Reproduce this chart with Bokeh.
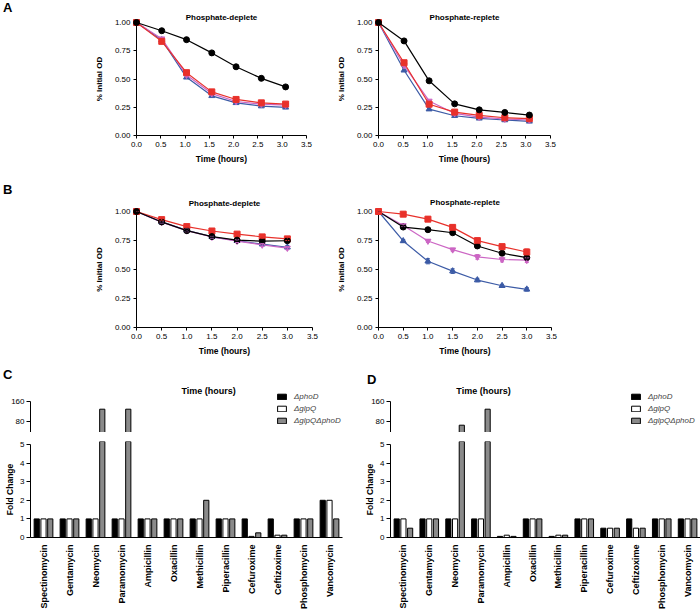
from math import pi
from bokeh.plotting import figure
from bokeh.models import (Range1d, FactorRange, FixedTicker, PrintfTickFormatter, Label,
                          Legend, LegendItem, ColumnDataSource, Whisker, TeeHead, Div)
from bokeh.layouts import column, row
from bokeh.transform import dodge
from bokeh.embed import file_html
from bokeh.resources import INLINE

FONT = "Liberation Sans"
BLACK = "#000000"
RED = "#e8312b"
PINK = "#cc66c4"
BLUE = "#3c5ba6"
GRAY = "#8a8a8a"

# ---------------- data ----------------
X_TICKS = [0.0, 0.5, 1.0, 1.5, 2.0, 2.5, 3.0, 3.5]
Y_TICKS = [0.0, 0.25, 0.5, 0.75, 1.0]

TIME_A = [0.0, 0.52, 1.03, 1.55, 2.05, 2.57, 3.07]
TIME_B = [0.0, 0.5, 1.0, 1.5, 2.0, 2.5, 3.0]

A_DEP_BLACK = [1.00, 0.927, 0.848, 0.731, 0.608, 0.506, 0.430]
A_DEP_RED = [1.00, 0.833, 0.556, 0.386, 0.319, 0.289, 0.278]
A_DEP_PINK = [1.00, 0.857, 0.535, 0.371, 0.301, 0.278, 0.269]
A_DEP_BLUE = [1.00, 0.845, 0.515, 0.351, 0.289, 0.260, 0.249]

A_REP_BLACK = [1.00, 0.837, 0.484, 0.280, 0.227, 0.204, 0.181]
A_REP_RED = [1.00, 0.644, 0.277, 0.207, 0.178, 0.157, 0.149]
A_REP_PINK = [1.00, 0.620, 0.306, 0.195, 0.163, 0.146, 0.137]
A_REP_BLUE = [1.00, 0.577, 0.233, 0.175, 0.152, 0.137, 0.125]

B_DEP_BLACK = [1.00, 0.910, 0.835, 0.784, 0.753, 0.744, 0.748]
B_DEP_RED = [1.00, 0.930, 0.870, 0.832, 0.805, 0.781, 0.764]
B_DEP_PINK = [1.00, 0.908, 0.835, 0.780, 0.745, 0.712, 0.685]
B_DEP_BLUE = [1.00, 0.910, 0.838, 0.782, 0.748, 0.718, 0.692]
B_DEP_ERR = [0.0, 0.008, 0.010, 0.010, 0.012, 0.012, 0.014]

B_REP_BLACK = [1.00, 0.866, 0.843, 0.817, 0.703, 0.640, 0.603]
B_REP_RED = [1.00, 0.977, 0.934, 0.863, 0.749, 0.697, 0.651]
B_REP_PINK = [1.00, 0.880, 0.746, 0.671, 0.609, 0.586, 0.580]
B_REP_BLUE = [1.00, 0.746, 0.571, 0.486, 0.409, 0.360, 0.329]
B_REP_ERR_BLACK = [0.0, 0.010, 0.012, 0.012, 0.015, 0.015, 0.015]
B_REP_ERR_RED = [0.0, 0.015, 0.020, 0.020, 0.020, 0.020, 0.025]
B_REP_ERR_PINK = [0.0, 0.010, 0.012, 0.012, 0.020, 0.020, 0.020]
B_REP_ERR_BLUE = [0.0, 0.012, 0.022, 0.020, 0.015, 0.012, 0.015]

ANTIBIOTICS = ["Spectinomycin", "Gentamycin", "Neomycin", "Paramomycin", "Ampicillin",
               "Oxacillin", "Methicillin", "Piperacillin", "Cefuroxime", "Ceftizoxime",
               "Phosphomycin", "Vancomycin"]
SERIES_NAMES = ["\u0394phoD", "\u0394glpQ", "\u0394glpQ\u0394phoD"]

C_PHOD = [1, 1, 1, 1, 1, 1, 1, 1, 1, 1, 1, 2]
C_GLPQ = [1, 1, 1, 1, 1, 1, 1, 1, 0.06, 0.125, 1, 2]
C_DOUBLE = [1, 1, 128, 128, 1, 1, 2, 1, 0.25, 0.125, 1, 1]

D_PHOD = [1, 1, 1, 1, 0.06, 1, 0.06, 1, 0.5, 1, 1, 1]
D_GLPQ = [1, 1, 1, 1, 0.125, 1, 0.125, 1, 0.5, 0.5, 1, 1]
D_DOUBLE = [0.5, 1, 64, 128, 0.06, 1, 0.125, 1, 0.5, 0.5, 1, 1]

BOTTOM_TICKS = [0, 1, 2, 3, 4, 5]
TOP_TICKS = [80, 160]


def base_axes(p):
    p.outline_line_color = None
    p.grid.visible = False
    p.background_fill_color = "white"
    for ax in p.axis:
        ax.axis_line_color = BLACK
        ax.axis_line_width = 1
        ax.major_tick_line_color = BLACK
        ax.major_tick_in = 0
        ax.major_tick_out = 3
        ax.minor_tick_line_color = None
        ax.major_label_text_font = FONT
        ax.major_label_text_font_size = "8px"
        ax.major_label_text_color = BLACK
        ax.axis_label_text_font = FONT
        ax.axis_label_text_font_style = "bold"
        ax.axis_label_text_color = BLACK


def add_label(p, x, y, text, size, style="bold", align="center", baseline="middle"):
    p.add_layout(Label(x=x, y=y, text=text, text_font=FONT, text_font_size=size,
                       text_font_style=style, text_align=align, text_baseline=baseline,
                       text_color=BLACK))


def letter_div(letter, w, h, pad_left, pad_top):
    html = ('<div style="font-family:\'Liberation Sans\';font-weight:bold;font-size:13px;'
            'line-height:14px;color:#000;padding-left:%dpx;padding-top:%dpx;">%s</div>'
            % (pad_left, pad_top, letter))
    return Div(text=html, width=w, height=h, margin=0)


def line_panel(w, h, ml, mr, mt, mb, t, series, title, title_offset, title_standoff):
    p = figure(width=w, height=h, x_range=Range1d(0, 3.5), y_range=Range1d(0, 1),
               output_backend="svg", toolbar_location=None,
               min_border_left=ml, min_border_right=mr, min_border_top=mt, min_border_bottom=mb)
    p.title.text = title
    p.title.align = "center"
    p.title.text_font = FONT
    p.title.text_font_size = "8px"
    p.title.text_font_style = "bold"
    p.title.text_color = BLACK
    p.title.offset = title_offset
    p.title.standoff = title_standoff
    base_axes(p)
    p.xaxis.ticker = FixedTicker(ticks=X_TICKS)
    p.xaxis.formatter = PrintfTickFormatter(format="%.1f")
    p.yaxis.ticker = FixedTicker(ticks=Y_TICKS)
    p.yaxis.formatter = PrintfTickFormatter(format="%.2f")
    p.xaxis.axis_label = "Time (hours)"
    p.yaxis.axis_label = "% Initial OD"
    p.xaxis.axis_label_text_font_size = "8.5px"
    p.yaxis.axis_label_text_font_size = "8px"
    p.xaxis.major_label_standoff = 3
    p.xaxis.axis_label_standoff = 4
    p.yaxis.major_label_standoff = 3
    p.yaxis.axis_label_standoff = 8
    for vals, color, marker, err in series:
        src = ColumnDataSource(dict(x=t, y=vals))
        if err is not None:
            esrc = ColumnDataSource(dict(x=t, up=[v + e for v, e in zip(vals, err)],
                                         lo=[v - e for v, e in zip(vals, err)]))
            wk = Whisker(source=esrc, base="x", upper="up", lower="lo", dimension="height",
                         line_color=color, line_width=1, level="overlay",
                         upper_head=TeeHead(size=4, line_color=color),
                         lower_head=TeeHead(size=4, line_color=color))
            p.add_layout(wk)
        p.line("x", "y", source=src, line_color=color, line_width=1.2, level="overlay")
        p.scatter("x", "y", source=src, marker=marker, size=6, fill_color=color,
                  line_color=color, level="overlay")
    return p


a1 = line_panel(310, 175, 116, 24, 21, 40, TIME_A, [
    (A_DEP_BLUE, BLUE, "triangle", None),
    (A_DEP_PINK, PINK, "inverted_triangle", None),
    (A_DEP_RED, RED, "square", None),
    (A_DEP_BLACK, BLACK, "circle", None)],
    "Phosphate-deplete", 0, 1)
a2 = line_panel(370, 175, 48, 150, 22, 39, TIME_A, [
    (A_REP_BLUE, BLUE, "triangle", None),
    (A_REP_PINK, PINK, "inverted_triangle", None),
    (A_REP_RED, RED, "square", None),
    (A_REP_BLACK, BLACK, "circle", None)],
    "Phosphate-replete", -6, 2)
b1 = line_panel(310, 191, 116, 18, 34, 39, TIME_B, [
    (B_DEP_BLUE, BLUE, "triangle", B_DEP_ERR),
    (B_DEP_PINK, PINK, "inverted_triangle", B_DEP_ERR),
    (B_DEP_RED, RED, "square", B_DEP_ERR),
    (B_DEP_BLACK, BLACK, "circle", B_DEP_ERR)],
    "Phosphate-deplete", -4, 8)
b2 = line_panel(370, 191, 48, 149, 36, 38, TIME_B, [
    (B_REP_BLUE, BLUE, "triangle", B_REP_ERR_BLUE),
    (B_REP_PINK, PINK, "inverted_triangle", B_REP_ERR_PINK),
    (B_REP_BLACK, BLACK, "circle", B_REP_ERR_BLACK),
    (B_REP_RED, RED, "square", B_REP_ERR_RED)],
    "Phosphate-replete", -7, 9)


def bar_panel(phod, glpq, dbl, w, ml, mr, legend_x, title_x, letter, pad_left, pad_top):
    data = dict(cat=ANTIBIOTICS, phod=phod, glpq=glpq, dbl=dbl)
    figs = [letter_div(letter, w, 18, pad_left, pad_top)]
    for part in ("top", "bottom"):
        if part == "top":
            p = figure(width=w, height=48, x_range=FactorRange(*ANTIBIOTICS),
                       y_range=Range1d(34.8, 226.8), output_backend="svg",
                       toolbar_location=None, min_border_left=ml, min_border_right=mr,
                       min_border_top=0, min_border_bottom=0)
        else:
            p = figure(width=w, height=180, x_range=FactorRange(*ANTIBIOTICS),
                       y_range=Range1d(0, 5.16), output_backend="svg",
                       toolbar_location=None, min_border_left=ml, min_border_right=mr,
                       min_border_top=9, min_border_bottom=73)
        base_axes(p)
        src = ColumnDataSource(data)
        rs = []
        for col, off, fill in (("phod", -0.26, BLACK), ("glpq", 0.0, "white"), ("dbl", 0.26, GRAY)):
            r = p.vbar(x=dodge("cat", off, range=p.x_range), top=col, bottom=0, width=0.2,
                       source=src, fill_color=fill, line_color=BLACK, line_width=1)
            rs.append(r)
        p.yaxis.major_tick_out = 4
        p.yaxis.major_label_standoff = 2
        if part == "top":
            p.xaxis.visible = False
            p.yaxis.ticker = FixedTicker(ticks=TOP_TICKS)
            p.yaxis.bounds = (34.8, 160)
            legend = Legend(items=[LegendItem(label=n, renderers=[r]) for n, r in zip(SERIES_NAMES, rs)],
                            location=(legend_x, 6), glyph_width=11, glyph_height=7,
                            label_text_font=FONT, label_text_font_size="8px",
                            label_text_font_style="italic", label_height=12, label_standoff=7,
                            spacing=0, padding=0, margin=0, border_line_color=None,
                            background_fill_alpha=0)
            p.add_layout(legend)
            add_label(p, title_x, 202.8, "Time (hours)", "9px")
        else:
            p.yaxis.ticker = FixedTicker(ticks=BOTTOM_TICKS)
            p.yaxis.bounds = (0, 5)
            p.yaxis.axis_label = "Fold Change"
            p.yaxis.axis_label_text_font_size = "8.5px"
            p.yaxis.axis_label_standoff = 2
            p.xaxis.major_tick_line_color = None
            p.xaxis.major_label_orientation = pi / 2
            p.xaxis.major_label_text_font_style = "bold"
            p.xaxis.major_label_text_font_size = "9px"
            p.xaxis.major_label_standoff = 4
        figs.append(p)
    return column(*figs)


c = bar_panel(C_PHOD, C_GLPQ, C_DOUBLE, 350, 30, 8, 246, 6.85, "C", 3, 2)
d = bar_panel(D_PHOD, D_GLPQ, D_DOUBLE, 350, 40, 0, 240, 3.6, "D", 17, 7)

layout = column(row(letter_div("A", 20, 175, 3, 1), a1, a2),
                row(letter_div("B", 20, 191, 3, 8), b1, b2),
                row(c, d))
open("out.html", "w").write(file_html(layout, INLINE))
